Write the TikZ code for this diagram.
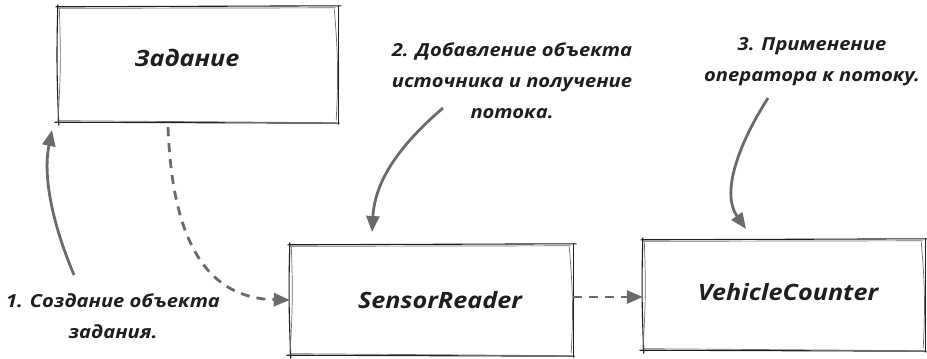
\documentclass[tikz,border=0pt]{standalone}
\usepackage{fontspec}
\setmainfont{Open Sans}
\newfontfamily\sketchfont[FakeStretch=1.12]{Open Sans}
\usetikzlibrary{arrows.meta}

\definecolor{ink}{HTML}{1E1E1E}
\definecolor{arrowgray}{HTML}{6A6B6E}

\tikzset{
  boxframe/.style={draw=none, inner sep=0pt},
  roughline/.style={draw=ink, line width=1.1pt, line cap=round},
  roughline2/.style={draw=ink!65, line width=0.7pt, line cap=round},
  flow/.style={draw=arrowgray, line width=2.8pt,
    -{Triangle[length=16pt,width=13pt,fill=arrowgray]}},
  dashflow/.style={flow, dash pattern=on 9pt off 7pt},
  labeltext/.style={font=\sketchfont\fontsize{18}{31}\selectfont\bfseries\itshape,
    align=center, text=ink, inner sep=0pt},
  titletext/.style={font=\sketchfont\fontsize{22.5}{26}\selectfont\bfseries\itshape,
    text=ink, inner sep=0pt}
}

% hand-drawn looking frame around a named node
\newcommand\roughframe[1]{%
  \draw[roughline]  ([shift={(-2,0)}]#1.north west) -- ([shift={(3,-1)}]#1.north east);
  \draw[roughline2] ([shift={(1,1.5)}]#1.north west) -- ([shift={(-3,1)}]#1.north east);
  \draw[roughline]  ([shift={(-3,0)}]#1.south west) -- ([shift={(1,1)}]#1.south east);
  \draw[roughline2] ([shift={(1,-1.5)}]#1.south west) -- ([shift={(-2,0.5)}]#1.south east);
  \draw[roughline]  ([shift={(0,-2)}]#1.north west) to[bend right=2] ([shift={(1,3)}]#1.south west);
  \draw[roughline2] ([shift={(1.5,2)}]#1.north west) to[bend left=3] ([shift={(0,0)}]#1.south west);
  \draw[roughline]  ([shift={(0,-1)}]#1.north east) -- ([shift={(0,2)}]#1.south east);
  \draw[roughline2] ([shift={(-4,2)}]#1.north east) to[bend left=4] ([shift={(-2,-2)}]#1.south east);
}

\begin{document}
\begin{tikzpicture}[x=1pt, y=-1pt]
  \useasboundingbox (0,0) rectangle (927,359);

  % boxes
  \node[boxframe, minimum width=280pt, minimum height=115pt] (task) at (198,64.5) {};
  \node[boxframe, minimum width=283pt, minimum height=110pt] (sensor) at (431.5,300) {};
  \node[boxframe, minimum width=282pt, minimum height=110pt] (counter) at (784,295) {};
  \roughframe{task}
  \roughframe{sensor}
  \roughframe{counter}

  % box titles
  \node[titletext] (tasktitle) at (187,58) {Задание};
  \node[titletext] (sensortitle) at (440,300) {SensorReader};
  \node[titletext] (countertitle) at (788,292) {VehicleCounter};

  % step labels
  \node[labeltext] (step1) at (113,316) {1. Создание объекта\\задания.};
  \node[labeltext] (step2) at (512,81) {2. Добавление объекта\\источника и получение\\потока.};
  \node[labeltext] (step3) at (812,62) {3. Применение\\оператора к потоку.};

  % arrow anchors
  \coordinate (s1from) at (74,275);
  \coordinate (s1to) at (52,130);
  \coordinate (s2from) at (443,108);
  \coordinate (s2to) at (372,232);
  \coordinate (s3from) at (768,98);
  \coordinate (s3to) at (746,229);

  % step arrows
  \draw[flow] (s1from) .. controls (55,230) and (42,180) .. (s1to);
  \draw[flow] (s2from) .. controls (400,145) and (375,180) .. (s2to);
  \draw[flow] (s3from) .. controls (735,150) and (722,195) .. (s3to);

  % data flow between boxes
  \draw[dashflow] ([xshift=-30pt,yshift=-5pt]task.south) .. controls (172,230) and (200,298) .. (sensor.west);
  \draw[dashflow] ([yshift=3pt]sensor.east) -- ([yshift=-2pt]counter.west);
\end{tikzpicture}
\end{document}
